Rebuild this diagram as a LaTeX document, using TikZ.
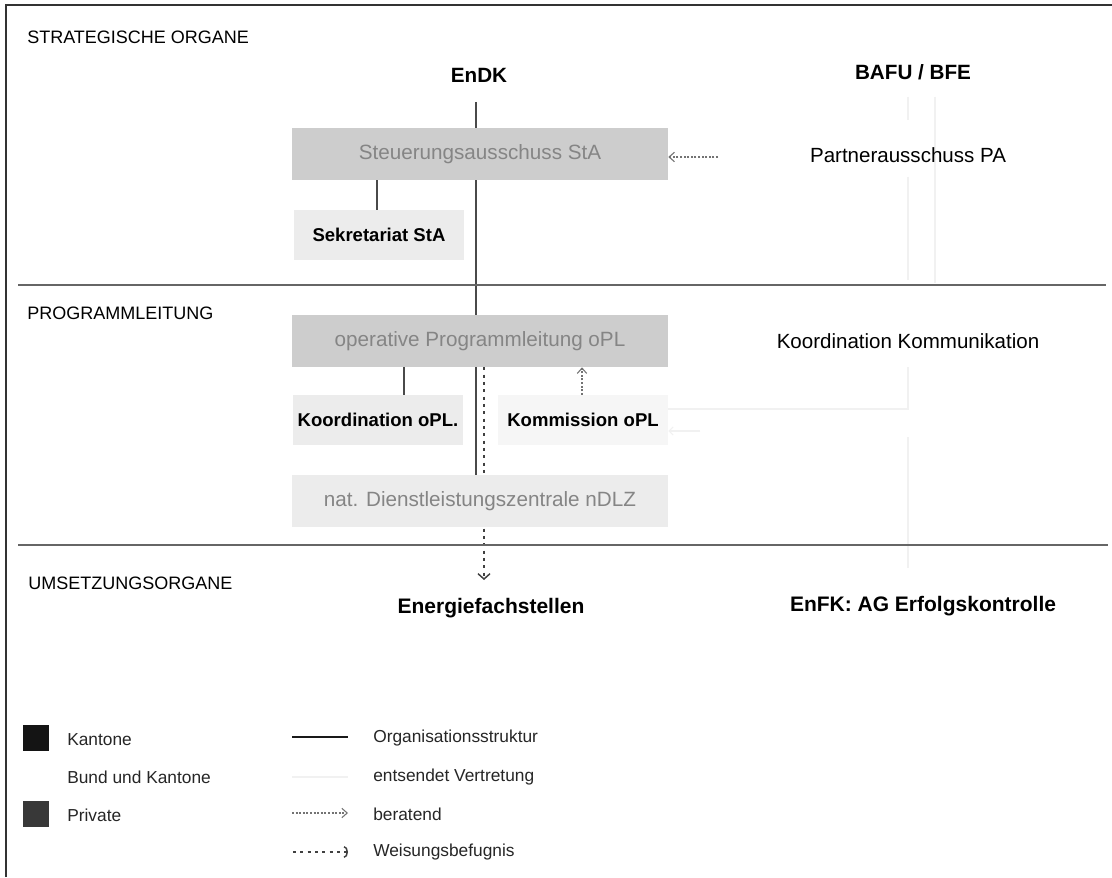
\documentclass[tikz,border=0pt]{standalone}
\usepackage{fontspec}
\setmainfont{Liberation Sans}
\usetikzlibrary{arrows.meta,backgrounds}
\definecolor{boxdark}{HTML}{CDCDCD}
\definecolor{boxlight}{HTML}{ECECEC}
\definecolor{boxfaint}{HTML}{F6F6F6}
\definecolor{boxtext}{HTML}{858585}
\definecolor{linedark}{HTML}{4A4A4A}
\definecolor{faintcol}{HTML}{F1F1F1}
\newcommand{\myfs}[1]{\fontsize{#1}{#1}\selectfont}
\begin{document}
\begin{tikzpicture}[x=0.75pt,y=-0.75pt,
  hdr/.style={anchor=west,inner sep=0,font=\myfs{13.5pt}},
  btitle/.style={inner sep=0,font=\myfs{15.5pt}\bfseries},
  rtitle/.style={inner sep=0,font=\myfs{15.4pt}},
  bigbox/.style={fill=boxdark,minimum width=282pt,minimum height=39pt,inner sep=0,text=boxtext,font=\myfs{15.5pt}},
  smallbox/.style={fill=boxlight,minimum width=127.5pt,minimum height=37.5pt,inner sep=0,font=\myfs{13.9pt}\bfseries},
  org/.style={draw=linedark,line width=1.5pt},
  ber/.style={draw=black!55,line width=0.8pt,dash pattern=on 1.5pt off 1.2pt,-{Straight Barb[length=4pt,width=7pt]}},
  weis/.style={draw=black!75,line width=1.1pt,dash pattern=on 2.2pt off 3.3pt,-{Straight Barb[length=4pt,width=9pt]}},
  weislegend/.style={draw=black!75,line width=1.1pt,dash pattern=on 2.2pt off 3.3pt,-{Arc Barb[length=3pt,width=9pt]}},
  faintline/.style={draw=faintcol,line width=0.8pt},
  lt/.style={anchor=west,inner sep=0,font=\myfs{13pt},text=black!85},
  sq/.style={minimum width=19.5pt,minimum height=20pt,inner sep=0},
  divider/.style={draw=black!60,line width=0.8pt},
]
\useasboundingbox (0,0) rectangle (1112,877);
% frame
\coordinate (fa) at (6,877);
\coordinate (fb) at (6,5);
\coordinate (fc) at (1112,5);
\draw[line width=1.2pt,black!80] (fa) -- (fb) -- (fc);
% dividers
\coordinate (d1a) at (18,285);
\coordinate (d1b) at (1106,285);
\coordinate (d2a) at (18,545);
\coordinate (d2b) at (1108,545);
\draw[divider] (d1a) -- (d1b);
\draw[divider] (d2a) -- (d2b);

% section headings
\node[hdr] (h1) at (27,37) {STRATEGISCHE ORGANE};
\node[hdr] (h2) at (27,313) {PROGRAMMLEITUNG};
\node[hdr] (h3) at (28,583) {UMSETZUNGSORGANE};

% strategic
\node[btitle] (endk) at (479,75) {EnDK};
\node[btitle] (bafu) at (913,72) {BAFU / BFE};
\node[bigbox] (sta) at (480,154) {Steuerungsausschuss StA};
\node[rtitle] (pa) at (908,155) {Partnerausschuss PA};
\node[smallbox] (sek) at (379,235) {Sekretariat StA};

% programme
\node[bigbox] (opl) at (480,341) {operative Programmleitung oPL};
\node[rtitle] (kk) at (908,341) {Koordination Kommunikation};
\node[smallbox] (koo) at (378,420) {Koordination oPL.};
\node[smallbox,fill=boxfaint] (kom) at (583,420) {Kommission oPL};
\node[bigbox,fill=boxlight] (ndlz) at (480,501) {nat. Dienstleistungszentrale nDLZ};

% implementation
\node[btitle,font=\myfs{15.75pt}\bfseries] (ene) at (491,608) {Energiefachstellen};
\node[btitle,font=\myfs{15.75pt}\bfseries] (enfk) at (923,606) {EnFK: AG Erfolgskontrolle};

% connectors (behind the boxes)
\begin{pgfonlayer}{background}
\fill[white] (0,0) rectangle (1112,877);
\coordinate (l0) at (476,102);
\draw[org] (l0) -- (l0 |- sta.north);
\draw[org] (l0 |- sta.south) -- (l0 |- opl.north);
\draw[org] (l0 |- opl.south) -- (l0 |- ndlz.north);
\coordinate (s1) at (377,0);
\draw[org] (s1 |- sta.south) -- (s1 |- sek.north);
\coordinate (s2) at (404,0);
\draw[org] (s2 |- opl.south) -- (s2 |- koo.north);
\coordinate (pa0) at (718,157);
\draw[ber] (pa0) -- (pa0 -| sta.east);
\coordinate (k0) at (582,0);
\draw[ber] (k0 |- kom.north) -- (k0 |- opl.south);
\coordinate (w0) at (484,0);
\coordinate (wend) at (484,580);
\draw[weis] (w0 |- opl.south) -- (wend);
% faint connectors on the right
\coordinate (r1) at (908,97);
\coordinate (r2) at (908,120);
\coordinate (r3) at (908,177);
\coordinate (r4) at (908,280);
\coordinate (r5) at (935,97);
\coordinate (r6) at (935,283);
\draw[faintline] (r1) -- (r2);
\draw[faintline] (r3) -- (r4);
\draw[faintline] (r5) -- (r6);
\coordinate (r7) at (908,367);
\coordinate (r8) at (908,409);
\draw[faintline] (r7) -- (r8) -- (r8 -| kom.east);
\coordinate (r9) at (908,437);
\coordinate (r10) at (908,568);
\draw[faintline] (r9) -- (r10);
\coordinate (r11) at (700,431);
\draw[faintline,-{Straight Barb[length=3pt,width=6pt]}] (r11) -- (r11 -| kom.east);
\end{pgfonlayer}

% legend
\node[sq,fill=black!92] (lk) at (36,738) {};
\node[lt] (lkt) at (67,740) {Kantone};
\node[lt] (lbk) at (67,777) {Bund und Kantone};
\node[sq,fill=black!78] (lp) at (36,814) {};
\node[lt] (lpt) at (67,815) {Private};

\coordinate (g1a) at (292,737);
\coordinate (g1b) at (348,737);
\draw[draw=black!90,line width=1.4pt] (g1a) -- (g1b);
\node[lt] (g1t) at (373,738) {Organisationsstruktur};

\coordinate (g2a) at (292,777);
\coordinate (g2b) at (348,777);
\draw[faintline] (g2a) -- (g2b);
\node[lt] (g2t) at (373,777) {entsendet Vertretung};

\coordinate (g3a) at (292,813);
\coordinate (g3b) at (348,813);
\draw[ber] (g3a) -- (g3b);
\node[lt] (g3t) at (373,814) {beratend};

\coordinate (g4a) at (293,852);
\coordinate (g4b) at (348,852);
\draw[weislegend] (g4a) -- (g4b);
\node[lt] (g4t) at (373,852) {Weisungsbefugnis};
\end{tikzpicture}
\end{document}
